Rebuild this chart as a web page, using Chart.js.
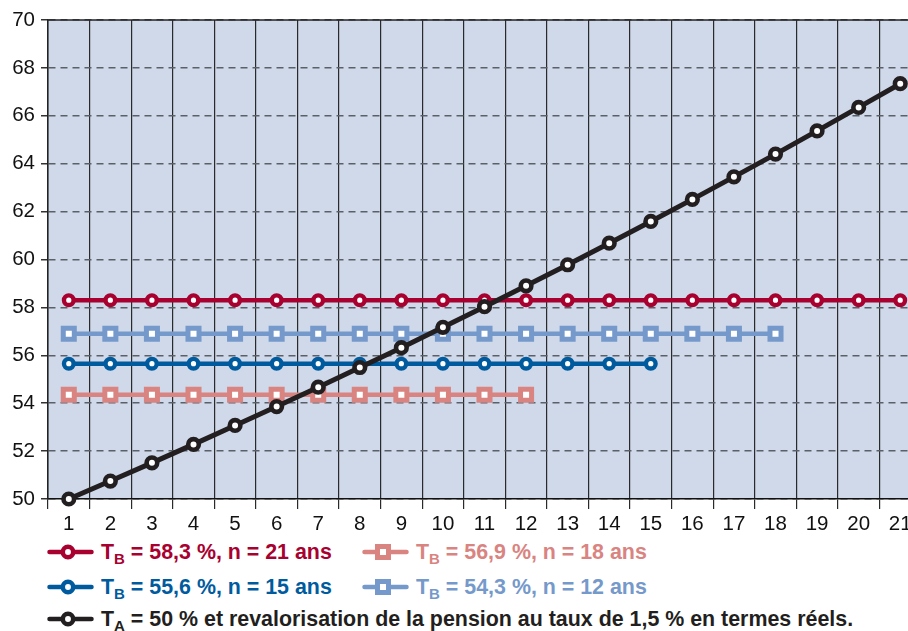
<!DOCTYPE html>
<html><head><meta charset="utf-8">
<script src="https://cdn.jsdelivr.net/npm/chart.js@4/dist/chart.umd.min.js"></script>
<style>
html,body{margin:0;padding:0;background:#fff;overflow:hidden;width:908px;height:631px;}
#wrap{position:absolute;left:0;top:0;width:921px;height:535px;}
.leg{position:absolute;font-family:"Liberation Sans",Arial,sans-serif;font-weight:bold;font-size:21.4px;white-space:nowrap;line-height:24px;}
.leg svg{position:absolute;left:0;top:1px;}
.leg span.t{position:absolute;left:54px;top:0;}
sub{font-size:15px;vertical-align:-5px;line-height:0;}
</style></head>
<body>
<div id="wrap"><canvas id="c" width="921" height="535"></canvas></div>
<div id="legend"></div>
<script>
const years = ['1','2','3','4','5','6','7','8','9','10','11','12','13','14','15','16','17','18','19','20','21'];
const tb583 = [58.3,58.3,58.3,58.3,58.3,58.3,58.3,58.3,58.3,58.3,58.3,58.3,58.3,58.3,58.3,58.3,58.3,58.3,58.3,58.3,58.3];
const tb569 = [56.9,56.9,56.9,56.9,56.9,56.9,56.9,56.9,56.9,56.9,56.9,56.9,56.9,56.9,56.9,56.9,56.9,56.9];
const tb556 = [55.65,55.65,55.65,55.65,55.65,55.65,55.65,55.65,55.65,55.65,55.65,55.65,55.65,55.65,55.65];
const tb543 = [54.35,54.35,54.35,54.35,54.35,54.35,54.35,54.35,54.35,54.35,54.35,54.35];
const ta50 = [50.0,50.75,51.51,52.28,53.07,53.86,54.67,55.49,56.32,57.17,58.03,58.90,59.78,60.68,61.59,62.51,63.45,64.40,65.37,66.35,67.34];
const yTicks = [50,52,54,56,58,60,62,64,66,68,70];

const RED='#a8002f', PINK='#d98481', DBLUE='#005b9e', LBLUE='#7599ca', BLACK='#231f20';

const legendItems = [
  {col:0,row:0,color:RED,shape:'circle',html:'T<sub>B</sub> = 58,3 %, n = 21 ans'},
  {col:1,row:0,color:PINK,shape:'rect',html:'T<sub>B</sub> = 56,9 %, n = 18 ans'},
  {col:0,row:1,color:DBLUE,shape:'circle',html:'T<sub>B</sub> = 55,6 %, n = 15 ans'},
  {col:1,row:1,color:LBLUE,shape:'rect',html:'T<sub>B</sub> = 54,3 %, n = 12 ans'},
  {col:0,row:2,color:BLACK,shape:'circle',html:'T<sub>A</sub> = 50 % et revalorisation de la pension au taux de 1,5 % en termes réels.'}
];
const rowTops = [540, 575, 607];
const lg = document.getElementById('legend');
legendItems.forEach(it=>{
  const d=document.createElement('div'); d.className='leg';
  d.style.left=(it.col?362:47)+'px'; d.style.top=rowTops[it.row]+'px'; d.style.color=it.color;
  let sym = it.shape==='circle'
    ? `<circle cx="21" cy="11" r="5.2" fill="#fff" stroke="${it.color}" stroke-width="4.5"/>`
    : `<rect x="15.5" y="5.5" width="11" height="11" fill="#fff" stroke="${it.color}" stroke-width="5"/>`;
  d.innerHTML=`<svg width="48" height="22"><line x1="2.5" y1="11" x2="44.5" y2="11" stroke="${it.color}" stroke-width="4.5" stroke-linecap="round"/>${sym}</svg><span class="t">${it.html}</span>`;
  lg.appendChild(d);
});

const bgPlugin = {
  id:'bg',
  beforeDraw(chart){
    const {ctx, chartArea:a} = chart;
    ctx.save(); ctx.fillStyle='#cfd9ea'; ctx.fillRect(a.left,a.top,a.right-a.left,a.bottom-a.top); ctx.restore();
  },
  beforeDatasetsDraw(chart){
    const {ctx, chartArea:a} = chart;
    ctx.save(); ctx.strokeStyle='#222'; ctx.lineWidth=1.5;
    ctx.beginPath(); ctx.moveTo(a.left,a.top); ctx.lineTo(a.right,a.top); ctx.stroke(); ctx.restore();
  }
};

function ds(data,color,shape,lw,r,bw,order){
  return {data, borderColor:color, backgroundColor:'#fff', pointBackgroundColor:'#fff', pointBorderColor:color,
    borderWidth:lw, pointStyle:shape, pointRadius:r, pointHoverRadius:r, pointBorderWidth:bw, order, tension:0, clip:false};
}

new Chart(document.getElementById('c'), {
  type:'line',
  data:{labels:years, datasets:[
    ds(ta50,BLACK,'circle',5,5.3,4.6,0),
    ds(tb583,RED,'circle',4.5,4.8,4.4,1),
    ds(tb569,LBLUE,'rect',4.5,7.8,5,1),
    ds(tb556,DBLUE,'circle',4.5,4.8,4.4,1),
    ds(tb543,PINK,'rect',4.5,7.8,5,1)
  ]},
  options:{
    responsive:false, animation:false, devicePixelRatio:1,
    layout:{autoPadding:false, padding:{top:20,left:0,right:0,bottom:0}},
    plugins:{legend:{display:false}, tooltip:{enabled:false}},
    scales:{
      x:{offset:true,
        grid:{offset:true,color:'#2a2a2a',lineWidth:1.2,tickLength:10,drawTicks:true},
        border:{display:true,color:'#111',width:1.5},
        ticks:{color:'#111',font:{family:'"Liberation Sans", Arial, sans-serif',size:20.5},padding:3,maxRotation:0,autoSkip:false},
        afterFit(s){s.height=36;}
      },
      y:{min:50,max:70,
        afterBuildTicks(s){s.ticks=yTicks.map(v=>({value:v}));},
        grid:{color:'#5b6068',lineWidth:1.5,tickLength:7,tickColor:'#333',tickBorderDash:[]},
        border:{display:true,color:'#222',width:1.5,dash:[7,5]},
        ticks:{color:'#111',font:{family:'"Liberation Sans", Arial, sans-serif',size:20.5},padding:6},
        afterFit(s){s.width=48;}
      }
    }
  },
  plugins:[bgPlugin]
});
</script>
</body></html>
